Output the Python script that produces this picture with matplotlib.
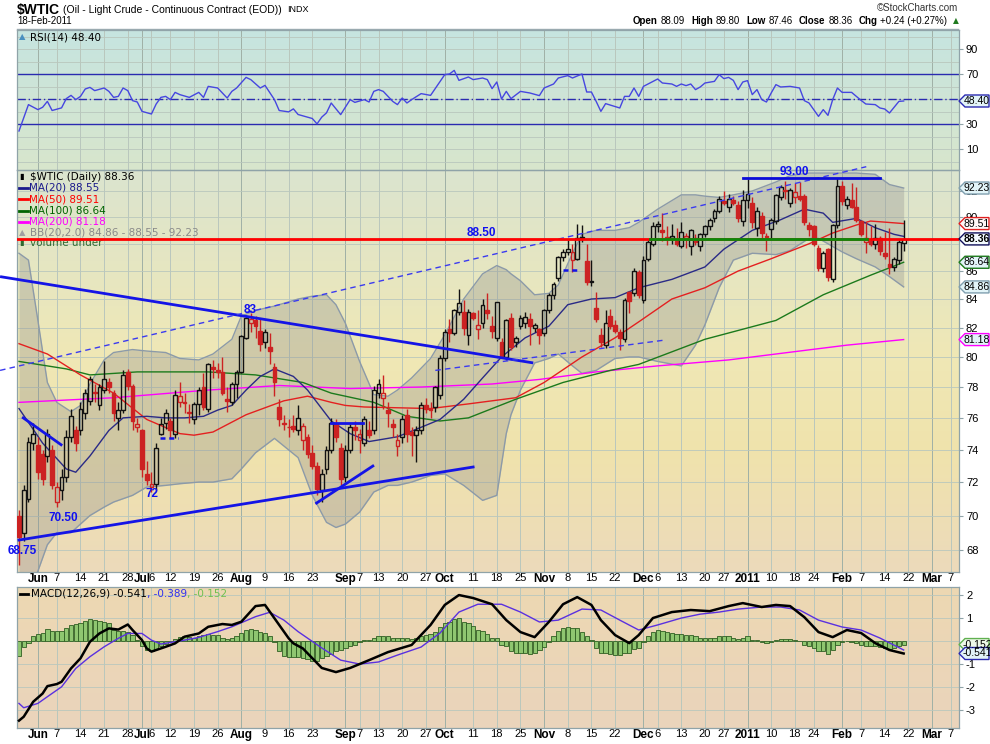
import numpy as np
import matplotlib
matplotlib.use("Agg")
import matplotlib.pyplot as plt
import matplotlib.colors as mcolors
from matplotlib.patches import Rectangle, Polygon
from matplotlib.lines import Line2D
from matplotlib.collections import LineCollection

plt.rcParams['font.family'] = ['DejaVu Sans']
plt.rcParams['axes.unicode_minus'] = False

# ---------------- DATA (trading days 25-May-2010 .. 18-Feb-2011) ----------------
opens = [70.0, 69.0, 71.0, 74.4, 74.3, 73.7, 73.6, 74.0, 70.8, 71.5,
         72.3, 74.8, 75.2, 75.2, 76.3, 77.1, 77.7, 76.8, 77.8, 78.3,
         77.6, 76.0, 76.5, 79.0, 78.1, 75.4, 75.2, 72.5, 71.7, 71.9,
         75.0, 75.7, 75.8, 75.0, 77.0, 77.0, 76.4, 75.9, 76.9, 78.0,
         76.6, 79.3, 79.1, 79.0, 77.2, 77.0, 78.2, 79.0, 81.3, 82.3,
         82.5, 81.8, 81.0, 80.7, 79.3, 76.7, 75.7, 75.4, 75.5, 75.2,
         74.6, 74.8, 73.8, 73.0, 71.5, 72.8, 74.0, 75.6, 74.1, 72.3,
         74.0, 75.4, 74.6, 74.4, 75.2, 75.2, 77.6, 77.3, 76.5, 75.6,
         74.2, 74.8, 76.2, 75.1, 74.9, 75.2, 76.8, 76.6, 76.7, 77.5,
         79.9, 81.9, 81.6, 83.1, 83.1, 81.5, 83.0, 81.9, 82.3, 83.2,
         82.1, 81.3, 81.0, 80.0, 82.7, 81.0, 82.1, 82.3, 82.6, 82.0,
         81.9, 81.6, 83.2, 84.3, 85.5, 87.0, 87.4, 86.8, 86.9, 88.4,
         86.7, 85.2, 83.4, 81.5, 80.8, 82.8, 82.2, 81.7, 81.2, 84.5,
         84.4, 85.9, 83.9, 86.9, 88.0, 89.3, 89.0, 88.4, 88.45, 88.2,
         87.8, 88.4, 87.8, 88.4, 87.8, 88.7, 89.3, 89.9, 90.5, 91.2,
         90.8, 91.3, 90.9, 89.7, 91.3, 91.1, 89.2, 90.1, 88.6, 89.1,
         89.7, 91.5, 92.1, 91.1, 91.5, 91.6, 91.6, 89.4, 89.3, 87.7,
         86.2, 87.6, 85.4, 89.4, 92.4, 90.9, 91.3, 90.8, 89.7, 88.1,
         88.2, 88.0, 88.4, 87.3, 86.5, 86.3, 86.8, 88.09]
highs = [70.3, 71.8, 74.8, 75.7, 74.8, 74.0, 75.3, 74.3, 72.0, 72.8,
         75.2, 76.6, 75.5, 77.0, 77.9, 78.7, 78.2, 78.2, 79.7, 78.6,
         77.8, 77.0, 79.1, 79.2, 78.2, 76.0, 75.3, 73.3, 72.6, 74.4,
         76.0, 76.6, 76.0, 77.8, 78.3, 77.6, 76.9, 77.0, 78.0, 78.9,
         79.6, 79.8, 79.6, 80.0, 78.0, 78.3, 79.1, 81.5, 82.9, 83.0,
         82.8, 82.6, 81.9, 81.6, 79.6, 77.2, 76.2, 75.9, 76.2, 76.8,
         75.7, 75.0, 74.3, 73.2, 72.8, 74.2, 76.0, 75.9, 74.4, 74.3,
         75.6, 75.8, 75.3, 76.1, 75.8, 78.1, 78.5, 78.8, 77.0, 75.9,
         75.0, 76.2, 76.6, 75.4, 75.5, 77.0, 77.3, 77.0, 78.1, 80.1,
         81.9, 82.6, 83.3, 84.7, 83.9, 83.3, 83.1, 83.2, 84.0, 84.4,
         82.8, 83.8, 81.3, 82.6, 83.0, 81.4, 82.9, 83.1, 83.0, 82.3,
         82.0, 83.3, 84.4, 85.2, 87.1, 87.6, 88.3, 88.0, 89.5, 89.4,
         88.0, 86.8, 84.5, 82.0, 83.2, 83.3, 82.5, 81.9, 84.1, 84.6,
         86.2, 86.1, 87.1, 88.3, 89.6, 89.7, 90.3, 89.3, 89.5, 89.2,
         89.6, 88.8, 89.1, 88.7, 88.8, 89.4, 89.9, 90.6, 91.6, 92.0,
         91.8, 91.6, 91.2, 92.1, 92.9, 91.5, 90.8, 90.4, 88.8, 89.9,
         91.8, 92.5, 92.8, 92.2, 92.6, 92.7, 91.8, 89.6, 89.4, 87.9,
         87.5, 87.7, 89.5, 93.0, 92.8, 91.6, 92.6, 92.3, 89.8, 89.6,
         89.3, 89.5, 88.6, 88.9, 89.2, 87.0, 88.3, 89.80]
lows = [67.15, 68.5, 70.8, 74.0, 72.2, 71.8, 73.2, 71.6, 70.5, 70.9,
        72.0, 74.5, 73.9, 74.9, 75.9, 76.8, 77.0, 76.5, 77.6, 77.6,
        75.8, 75.2, 76.3, 77.8, 75.2, 75.1, 72.3, 71.8, 71.4, 71.5,
        74.9, 75.3, 74.7, 74.7, 76.7, 76.3, 75.7, 75.6, 76.2, 76.5,
        76.4, 78.6, 78.6, 77.5, 76.4, 76.8, 77.3, 78.9, 81.2, 81.7,
        81.3, 80.4, 80.6, 79.5, 77.4, 75.5, 75.2, 74.8, 75.1, 74.9,
        74.0, 73.5, 72.8, 71.2, 70.8, 72.5, 73.8, 74.5, 71.8, 72.0,
        73.8, 74.6, 73.8, 74.2, 74.7, 75.0, 77.3, 76.6, 75.4, 74.8,
        73.6, 74.4, 74.5, 73.6, 73.2, 75.0, 76.3, 76.0, 76.4, 77.2,
        79.7, 81.0, 81.5, 82.9, 81.5, 80.8, 82.5, 81.2, 82.0, 82.6,
        81.3, 81.1, 79.9, 79.8, 80.5, 80.7, 81.9, 82.0, 80.8, 81.7,
        80.9, 81.4, 83.0, 84.0, 85.3, 86.7, 87.2, 85.9, 86.8, 88.1,
        85.0, 84.9, 82.4, 80.7, 80.6, 81.9, 81.6, 80.5, 81.0, 83.0,
        84.2, 84.1, 83.7, 86.7, 87.8, 88.9, 88.2, 87.9, 88.0, 87.8,
        87.7, 87.7, 87.2, 87.9, 87.5, 88.5, 89.0, 89.6, 90.3, 90.9,
        90.4, 90.9, 89.6, 89.3, 90.7, 89.2, 88.6, 88.3, 87.5, 88.3,
        89.5, 91.3, 91.4, 90.8, 91.1, 91.2, 89.4, 88.6, 87.8, 86.0,
        85.9, 85.3, 85.2, 89.2, 90.9, 90.6, 90.7, 89.6, 88.6, 87.3,
        87.8, 87.6, 87.2, 86.9, 85.8, 86.0, 86.5, 87.46]
closes = [68.75, 71.5, 74.5, 75.0, 72.6, 72.2, 75.0, 71.8, 71.7, 72.3,
          74.8, 76.1, 74.4, 76.6, 77.6, 78.5, 77.6, 78.0, 78.5, 78.0,
          76.3, 76.5, 78.8, 78.1, 75.8, 75.6, 72.8, 72.1, 71.9, 74.1,
          75.6, 76.3, 75.2, 77.5, 77.4, 76.95, 76.3, 76.9, 77.8, 76.7,
          79.5, 79.2, 79.0, 77.6, 77.1, 78.2, 79.0, 81.4, 82.7, 82.6,
          82.1, 80.9, 81.7, 80.4, 78.3, 75.9, 75.6, 75.45, 75.3, 76.0,
          75.5, 73.7, 73.0, 71.6, 72.5, 74.0, 75.7, 74.8, 72.2, 74.0,
          75.4, 75.2, 75.0, 75.9, 74.9, 77.8, 78.2, 77.6, 76.3, 75.4,
          74.6, 75.9, 75.0, 74.9, 75.2, 76.8, 76.6, 76.5, 78.0, 79.9,
          81.7, 81.6, 83.2, 83.7, 82.0, 83.1, 82.7, 82.2, 83.6, 83.0,
          81.8, 83.8, 80.0, 82.5, 80.7, 81.3, 82.7, 82.75, 82.1, 82.2,
          81.5, 83.2, 84.3, 85.1, 87.0, 87.4, 87.6, 87.4, 88.4, 88.5,
          85.2, 85.3, 82.6, 81.0, 82.3, 82.1, 81.8, 81.3, 83.9, 83.85,
          86.0, 84.3, 86.8, 88.1, 89.3, 89.5, 88.9, 88.5, 88.6, 88.0,
          88.9, 88.6, 89.0, 88.1, 88.7, 89.3, 89.8, 90.5, 91.4, 91.1,
          91.4, 91.1, 89.9, 91.3, 91.8, 89.6, 90.5, 88.8, 88.5, 89.8,
          91.7, 92.3, 92.0, 92.1, 91.9, 91.4, 89.6, 89.1, 88.0, 86.2,
          87.3, 85.6, 89.4, 92.4, 91.2, 91.4, 90.8, 89.8, 88.7, 88.4,
          88.0, 88.4, 87.5, 87.1, 86.3, 86.9, 88.12, 88.36]

# moving averages (day index, value)
ma20_days = [0, 5, 10, 12, 15, 19, 22, 27, 31, 35, 39, 42, 45, 48, 51, 54, 58, 61, 66, 70, 74, 80, 85, 89, 94, 98,
             102, 107, 112, 116, 121, 126, 131, 138, 145, 149, 155, 161, 166, 170, 172, 177, 181, 185, 187]
ma20_vals = [76.6, 74.4, 72.8, 72.6, 73.6, 75.2, 76.0, 76.1, 76.0, 76.0, 76.1, 76.5, 76.8, 77.8, 78.7, 79.2, 78.7, 77.8,
             75.8, 75.0, 74.5, 74.8, 75.4, 75.9, 77.2, 78.6, 80.0, 81.3, 82.1, 83.6, 84.0, 84.1, 84.8, 85.4, 86.3,
             87.6, 89.0, 89.8, 90.6, 90.3, 89.6, 89.9, 89.2, 88.7, 88.55]
ma50_days = [0, 6, 13, 20, 27, 34, 37, 41, 48, 56, 61, 66, 69, 73, 87, 95, 105, 111, 119, 126, 131, 138, 145, 152,
             159, 167, 172, 177, 180, 187]
ma50_vals = [80.9, 80.2, 78.8, 77.6, 75.9, 75.0, 74.9, 75.1, 76.2, 77.1, 77.4, 77.0, 76.8, 76.7, 76.6, 76.9, 77.3,
             78.3, 80.0, 81.3, 82.4, 84.0, 84.8, 86.0, 86.9, 88.0, 88.8, 89.4, 89.7, 89.51]
ma100_days = [0, 10, 15, 25, 40, 50, 60, 66, 75, 82, 89, 95, 105, 115, 125, 131, 145, 160, 170, 180, 187]
ma100_vals = [79.7, 79.2, 78.8, 79.0, 79.0, 78.8, 78.3, 77.6, 77.0, 76.1, 75.8, 76.0, 77.2, 78.3, 79.1, 79.5, 81.2,
              82.5, 84.3, 85.7, 86.64]
ma200_days = [0, 20, 40, 55, 70, 85, 100, 110, 122, 135, 150, 165, 175, 187]
ma200_vals = [77.0, 77.3, 77.8, 78.1, 77.9, 78.0, 78.2, 78.5, 79.0, 79.4, 79.8, 80.4, 80.8, 81.18]

# Bollinger bands (20,2)
bb_days = [0, 2, 4, 6, 8, 11, 13, 15, 18, 20, 24, 27, 31, 34, 38, 41, 45, 47, 50, 54, 59, 62, 65, 67, 69, 72, 75,
           78, 80, 83, 87, 90, 94, 98, 101, 103, 104, 106, 109, 112, 114, 117, 119, 122, 126, 129, 131, 135, 140,
           143, 145, 148, 151, 155, 160, 163, 167, 169, 171, 174, 177, 181, 184, 187]
bb_upper = [87.3, 86.8, 82.5, 78.3, 77.0, 76.4, 76.8, 78.2, 79.8, 80.3, 80.5, 80.4, 80.3, 79.9, 79.8, 80.2, 81.2,
            82.8, 83.2, 83.5, 84.0, 84.2, 84.3, 83.6, 82.3, 79.7, 77.5, 77.4, 77.8, 78.6, 79.9, 81.5, 84.0, 85.8,
            86.4, 86.1, 85.8, 85.3, 84.3, 84.4, 85.0, 87.3, 88.7, 89.0, 89.0, 89.2, 89.6, 90.6, 91.7, 91.7, 91.6,
            91.5, 91.7, 92.0, 92.7, 93.2, 93.4, 93.4, 93.4, 93.4, 93.4, 93.3, 92.5, 92.23]
bb_lower = [65.5, 66.0, 66.8, 68.3, 69.0, 69.0, 69.5, 70.0, 70.5, 70.8, 71.2, 71.7, 71.8, 71.9, 72.0, 72.0, 72.2,
            72.8, 73.8, 74.7, 73.5, 71.2, 69.6, 69.3, 69.5, 70.2, 71.4, 71.8, 71.8, 72.0, 72.4, 72.5, 71.8, 70.9,
            71.2, 75.0, 76.2, 77.8, 79.6, 79.9, 80.2, 79.4, 78.9, 79.1, 79.9, 80.0, 80.0, 79.7, 79.4, 80.8, 82.2,
            84.8, 86.8, 87.3, 87.2, 87.5, 88.4, 88.4, 88.0, 87.4, 86.9, 86.3, 85.6, 84.86]

# RSI(14)
rsi_days = [0, 1, 2, 4, 5, 6, 7, 9, 10, 11, 12, 13, 14, 15, 16, 18, 19, 20, 21, 22, 23, 24, 25, 26, 28, 29, 30,
            31, 32, 33, 34, 36, 38, 39, 40, 42, 44, 45, 46, 48, 49, 51, 52, 54, 55, 57, 58, 59, 61, 62, 63, 64, 65,
            66, 68, 70, 71, 73, 74, 75, 76, 77, 79, 80, 81, 82, 83, 85, 87, 90, 91, 92, 93, 95, 96, 98, 99, 100,
            101, 102, 103, 104, 106, 108, 110, 111, 113, 114, 116, 117, 119, 120, 121, 122, 123, 124, 127, 128,
            129, 130, 131, 132, 134, 135, 136, 138, 139, 140, 141, 142, 143, 144, 145, 147, 148, 149, 150, 151,
            152, 153, 154, 155, 156, 157, 158, 159, 160, 161, 163, 165, 166, 167, 169, 170, 171, 172, 173, 174,
            176, 178, 179, 181, 182, 183, 184, 186, 187]
rsi_vals = [24.4, 35.0, 45.5, 41.5, 43.4, 48.1, 40.8, 42.9, 50.3, 52.9, 49.5, 52.1, 58.0, 59.3, 56.7, 58.8, 56.1,
            51.3, 52.1, 58.8, 56.7, 48.7, 47.6, 40.1, 38.0, 46.0, 51.3, 52.1, 49.5, 55.3, 53.5, 51.3, 55.3, 51.3,
            60.1, 58.8, 50.8, 56.1, 58.8, 67.3, 65.5, 58.8, 60.9, 49.5, 40.8, 39.7, 42.1, 37.6, 35.5, 34.4, 30.1,
            35.5, 38.9,
            46.8, 37.5, 49.5, 47.3, 49.5, 47.6, 56.1, 57.5, 56.1, 48.1, 45.5, 50.8, 46.8, 49.5, 54.3, 52.9, 69.5,
            70.0, 72.9, 64.9, 67.6, 65.5, 66.8, 65.5, 58.3, 63.6, 50.0, 56.1, 50.3, 56.1, 54.8, 52.7, 58.8, 62.0,
            66.8, 68.7, 66.8, 70.0, 55.6, 55.6, 48.1, 40.1, 46.3, 42.8, 52.1, 52.1, 58.8, 52.1, 60.1, 64.1, 66.0,
            62.8, 62.0, 60.1, 62.0, 60.7, 62.0, 57.5, 59.6, 62.8, 64.1, 69.5, 66.3, 67.3, 64.9, 57.5, 63.6, 64.7,
            53.5, 57.5, 49.5, 47.6, 54.8, 61.5, 59.6, 60.1, 58.8, 48.7, 46.8, 36.1, 41.5, 36.9, 49.5, 58.8, 55.3,
            55.3, 48.9, 46.0, 45.5, 42.8, 42.0, 38.8, 48.1, 48.4]

# MACD(12,26,9)
macd_days = [0, 1, 3, 5, 6, 8, 9, 11, 13, 15, 17, 19, 21, 23, 24, 26, 27, 28, 31, 33, 35, 38, 40, 43, 45, 47, 50,
             52, 53, 55, 57, 58, 60, 64, 67, 70, 74, 78, 83, 87, 90, 93, 96, 100, 103, 106, 109, 112, 115, 118, 121,
             123, 126, 129, 131, 134, 138, 142, 146, 150, 153, 157, 160, 163, 166, 169, 172, 175, 178, 181, 184, 187]
macd_vals = [-3.46, -3.29, -2.64, -2.28, -1.96, -1.87, -1.77, -1.19, -0.75, -0.03, 0.33, 0.55, 0.5, 0.72, 0.48,
             0.04, -0.32, -0.46, -0.25, -0.1, 0.19, 0.33, 0.62, 0.74, 0.7, 0.84, 1.52, 1.57, 1.28, 0.7, 0.12, -0.1,
             -0.32, -1.17, -1.35, -1.17, -0.83, -0.48, -0.17, 0.7, 1.57, 2.0, 1.87, 1.6, 0.91, 0.39, 0.17, 0.83,
             1.6, 1.91, 1.57, 0.91, 0.26, -0.09, 0.26, 1.0, 1.26, 1.35, 1.3, 1.52, 1.65, 1.48, 1.57, 1.52, 1.04,
             0.39, 0.17, 0.48, 0.35, -0.09, -0.39, -0.541]
signal_days = [0, 1, 4, 6, 9, 12, 15, 18, 21, 23, 26, 28, 30, 35, 38, 42, 45, 50, 53, 56, 59, 64, 68, 72, 76, 80,
               85, 89, 93, 97, 102, 106, 110, 114, 119, 123, 127, 131, 135, 140, 144, 148, 152, 157, 161, 165, 169,
               174, 178, 182, 187]
signal_vals = [-2.71, -2.9, -2.71, -2.42, -1.99, -1.19, -0.68, -0.25, 0.12, 0.33, 0.33, 0.04, -0.13, 0.04, 0.16,
               0.41, 0.62, 1.06, 1.25, 0.91, 0.41, -0.3, -0.83, -1.0, -0.91, -0.61, -0.26, 0.35, 1.26, 1.6, 1.6,
               1.26, 0.83, 0.91, 1.39, 1.35, 0.91, 0.48, 0.7, 1.0, 1.17, 1.26, 1.39, 1.48, 1.48, 1.35, 0.91, 0.61,
               0.48, 0.13, -0.389]
macd_hist = [-0.65, -0.25, -0.07, 0.2, 0.3, 0.35, 0.52, 0.45, 0.42, 0.42,
             0.57, 0.7, 0.73, 0.77, 0.87, 0.96, 0.91, 0.87, 0.81, 0.77,
             0.49, 0.42, 0.42, 0.39, 0.28, 0.03, -0.2, -0.39, -0.45, -0.33,
             -0.22, -0.12, 0.0, 0.1, 0.16, 0.2, 0.16, 0.14, 0.2, 0.25,
             0.3, 0.25, 0.28, 0.14, 0.1, 0.14, 0.2, 0.35, 0.49, 0.52,
             0.49, 0.39, 0.35, 0.2, -0.03, -0.43, -0.65, -0.7, -0.7, -0.7,
             -0.75, -0.8, -0.85, -0.85, -0.75, -0.65, -0.55, -0.45, -0.4, -0.3,
             -0.2, -0.15, -0.05, 0.05, 0.05, 0.15, 0.2, 0.2, 0.2, 0.15,
             0.12, 0.15, 0.12, 0.1, 0.12, 0.2, 0.25, 0.3, 0.4, 0.6,
             0.8, 0.85, 0.95, 1.0, 0.85, 0.8, 0.65, 0.5, 0.45, 0.3,
             0.15, 0.15, -0.15, -0.2, -0.45, -0.5, -0.5, -0.5, -0.55, -0.5,
             -0.4, -0.25, -0.05, 0.2, 0.45, 0.55, 0.6, 0.55, 0.55, 0.4,
             0.2, 0.05, -0.3, -0.5, -0.5, -0.55, -0.6, -0.6, -0.5, -0.5,
             -0.35, -0.3, -0.05, 0.2, 0.4, 0.5, 0.45, 0.4, 0.35, 0.3,
             0.3, 0.25, 0.25, 0.2, 0.15, 0.15, 0.15, 0.15, 0.2, 0.2,
             0.2, 0.15, 0.1, 0.15, 0.2, 0.05, 0.05, -0.05, -0.1, -0.05,
             0.05, 0.1, 0.1, 0.1, 0.05, 0.0, -0.15, -0.2, -0.3, -0.45,
             -0.45, -0.55, -0.4, -0.15, -0.05, 0.0, -0.05, -0.1, -0.15, -0.2,
             -0.2, -0.2, -0.25, -0.3, -0.35, -0.3, -0.2, -0.152]

# x-axis tick labels (trading-day index, text)
tick_pos = [4, 8, 13, 18, 23, 26, 28, 32, 37, 42, 47, 52, 57, 62, 69, 72, 76, 81, 86, 90, 96, 101, 106, 111, 116,
            121, 126, 132, 135, 140, 145, 149, 154, 159, 164, 168, 174, 178, 183, 188, 193, 197]
tick_lab = ['Jun', '7', '14', '21', '28', 'Jul', '6', '12', '19', '26', 'Aug', '9', '16', '23', 'Sep', '7', '13',
            '20', '27', 'Oct', '11', '18', '25', 'Nov', '8', '15', '22', 'Dec', '6', '13', '20', '27', '2011', '10',
            '18', '24', 'Feb', '7', '14', '22', 'Mar', '7']
month_lab = {'Jun', 'Jul', 'Aug', 'Sep', 'Oct', 'Nov', 'Dec', '2011', 'Feb', 'Mar'}
price_ticks = [68, 70, 72, 74, 76, 78, 80, 82, 84, 86, 90, 92]
rsi_ticks = [10, 30, 70, 90]
macd_ticks = [-3, -2, -1, 1, 2]

# ---------------- FIGURE ----------------
W, H = 990, 744
fig = plt.figure(figsize=(W / 100, H / 100), dpi=100)
fig.patch.set_facecolor('white')
XL = (-0.42, 198.7)
n = len(closes)


def frect(x0, y0, x1, y1):
    return [x0 / W, 1 - y1 / H, (x1 - x0) / W, (y1 - y0) / H]


def panel(x0, y0, x1, y1, stops):
    bg = fig.add_axes(frect(x0, y0, x1, y1), zorder=0)
    t = np.linspace(0, 1, 256)
    pos = [p for p, _ in stops]
    cols = np.array([mcolors.to_rgb(c) for _, c in stops])
    img = np.stack([np.interp(t, pos, cols[:, k]) for k in range(3)], -1)[:, None, :]
    bg.imshow(img, aspect='auto', extent=[0, 1, 0, 1], interpolation='bilinear')
    bg.set_axis_off()
    ax = fig.add_axes(frect(x0, y0, x1, y1), zorder=1)
    ax.patch.set_visible(False)
    for s in ax.spines.values():
        s.set_color('#8fa3a8')
        s.set_linewidth(0.9)
    return ax


ax_r = panel(17, 30, 959, 170, [(0, '#c6e4e0'), (1, '#d8e6cc')])
ax_p = panel(17, 170, 959, 572, [(0, '#dbe4cf'), (0.45, '#efe8b6'), (0.7, '#f0e3ac'), (1, '#ecdabb')])
ax_m = panel(17, 587, 959, 728, [(0, '#edd8b2'), (1, '#ead4bc')])

GRID = '#b9c7bd'
GRID_M = '#9fb0a6'
for ax in (ax_r, ax_p, ax_m):
    ax.set_xlim(*XL)
    for p, lab in zip(tick_pos, tick_lab):
        ax.axvline(p, color=GRID_M if lab in month_lab else GRID, lw=0.7, zorder=0.5)
    ax.tick_params(axis='y', which='both', left=False, right=True, labelleft=False, labelright=True,
                   labelsize=8, length=3, pad=2, color='#8fa3a8')
    ax.tick_params(axis='x', which='both', length=0, pad=0.5, color='#8fa3a8')

# ---- RSI panel ----
ax_r.set_ylim(-6.8, 105.2)
for v in range(0, 101, 10):
    ax_r.axhline(v, color=GRID, lw=0.6, zorder=0.5)
ax_r.axhline(70, color='#2a2ab0', lw=1.0, zorder=2)
ax_r.axhline(30, color='#2a2ab0', lw=1.0, zorder=2)
ax_r.axhline(50, color='#2a2ab0', lw=1.0, ls=(0, (6, 2, 1, 2)), zorder=2)
ax_r.plot(rsi_days, rsi_vals, color='#4646e0', lw=1.0, zorder=3)
ax_r.set_yticks(rsi_ticks)
ax_r.set_xticks([])
for t in ax_r.get_yticklabels():
    t.set_fontfamily('Liberation Sans')

# ---- Price panel ----
ax_p.set_yscale('log')
YP = (66.75, 93.64)
for v in range(68, 93, 2):
    ax_p.axhline(v, color=GRID, lw=0.6, zorder=0.5)

ax_p.fill_between(bb_days, bb_lower, bb_upper, color='#8e8e8e', alpha=0.33, lw=0, zorder=1)
ax_p.plot(bb_days, bb_upper, color='#8c9aa8', lw=1.0, zorder=1.2)
ax_p.plot(bb_days, bb_lower, color='#8c9aa8', lw=1.0, zorder=1.2)

ax_p.plot(ma200_days, ma200_vals, color='#ff00ff', lw=1.0, zorder=2)
ax_p.plot(ma100_days, ma100_vals, color='#1c7a1c', lw=1.0, zorder=2)
ax_p.plot(ma50_days, ma50_vals, color='#e42020', lw=1.0, zorder=2)
ax_p.plot(ma20_days, ma20_vals, color='#2a2a86', lw=1.0, zorder=2)

# candles
RED = '#cc2222'
BLK = '#111111'
bw = 0.8
segs, scol = [], []
for i in range(n):
    o, h, l, c = opens[i], highs[i], lows[i], closes[i]
    prev = closes[i - 1] if i > 0 else o + 1
    col = RED if c < prev else BLK
    lo, hi = min(o, c), max(o, c)
    segs.append([(i, l), (i, lo)])
    segs.append([(i, hi), (i, h)])
    scol += [col, col]
    filled = c < o
    ax_p.add_patch(Rectangle((i - bw / 2, lo), bw, max(hi - lo, 0.03),
                             facecolor=col if filled else 'none', edgecolor=col, lw=1.0, zorder=4))
ax_p.add_collection(LineCollection(segs, colors=scol, linewidths=1.0, zorder=3.9))

# chartist drawings
BLUE = '#1414e6'
ax_p.plot([-4.0, 108.7], [85.6, 79.6], color=BLUE, lw=2.0, zorder=5, clip_on=False, solid_capstyle='butt')
ax_p.plot([0.0, 96.0], [68.57, 72.92], color=BLUE, lw=2.0, zorder=5)
ax_p.plot([0.9, 8.9], [76.0, 74.3], color=BLUE, lw=2.0, zorder=5)
ax_p.plot([62.9, 74.8], [70.74, 72.98], color=BLUE, lw=2.0, zorder=5)
ax_p.plot([66.0, 72.7], [75.7, 75.7], color=BLUE, lw=2.0, zorder=5)
ax_p.plot([29.8, 33.6], [74.7, 74.7], color=BLUE, lw=1.8, ls=(0, (2, 1.5)), zorder=5)
ax_p.plot([115.0, 118.0], [86.1, 86.1], color=BLUE, lw=1.8, ls=(0, (2, 1.5)), zorder=5)
ax_p.plot([-4.0, 179.1], [79.1, 93.9], color='#3a3af0', lw=1.0, ls=(0, (4, 3)), zorder=5, clip_on=False)
ax_p.plot([88.0, 136.6], [79.1, 81.15], color='#3a3af0', lw=1.0, ls=(0, (4, 3)), zorder=5)
ax_p.plot([153.0, 182.0], [93.0, 93.0], color='#0a0ad8', lw=2.0, zorder=5)
ax_p.axhline(88.36, color='#ff0000', lw=2.0, zorder=6)
ax_p.plot([133.4, 179.3], [88.36, 88.36], color='#0a8a0a', lw=2.0, zorder=6.1)

ann = dict(color='#1010f0', fontsize=8.5, fontweight='bold', ha='center', va='center', zorder=7,
           fontfamily='Liberation Sans')
ax_p.text(163.8, 93.45, '93.00', clip_on=False, **ann)
ax_p.text(97.7, 88.8, '88.50', **ann)
ax_p.text(48.8, 83.2, '83', **ann)
ax_p.text(9.3, 69.86, '70.50', **ann)
ax_p.text(28.1, 71.3, '72', **ann)
ax_p.text(0.6, 67.95, '68.75', clip_on=False, **ann)

ax_p.set_ylim(*YP)
ax_p.yaxis.set_minor_locator(matplotlib.ticker.NullLocator())
ax_p.set_yticks(price_ticks)
ax_p.yaxis.set_major_formatter(matplotlib.ticker.FuncFormatter(lambda v, p: f'{v:.0f}'))
ax_p.set_xticks(tick_pos)
ax_p.set_xticklabels(tick_lab)

# ---- MACD panel ----
ax_m.set_ylim(-3.78, 2.35)
for v in range(-3, 3):
    ax_m.axhline(v, color=GRID, lw=0.6, zorder=0.5)
ax_m.bar(np.arange(n), macd_hist, width=0.9, color='#8fc670', edgecolor='#2f5f22', lw=0.6, zorder=2)
ax_m.plot(signal_days, signal_vals, color='#5a30e0', lw=1.0, zorder=3)
ax_m.plot(macd_days, macd_vals, color='#000000', lw=1.8, zorder=4)
ax_m.set_yticks(macd_ticks)
ax_m.set_xticks(tick_pos)
ax_m.set_xticklabels(tick_lab)

for ax in (ax_p, ax_m):
    ax.set_xlim(*XL)
    ax.tick_params(axis='x', labelsize=8)
    for t in ax.get_xticklabels():
        t.set_fontfamily('Liberation Sans')
        if t.get_text() in month_lab:
            t.set_fontweight('bold')
            t.set_fontsize(8.5)
    for t in ax.get_yticklabels():
        t.set_fontfamily('Liberation Sans')


# ---- right-hand value boxes (arrow tags) ----
def rbox(ax, val, s, ec, fc='#e2f4f8', bold=False):
    yd = ax.transData.transform((0, val))[1]
    pts = [(959, yd), (965, yd + 6), (989, yd + 6), (989, yd - 6), (965, yd - 6)]
    fig.add_artist(Polygon([(px / W, py / H) for px, py in pts], closed=True, transform=fig.transFigure,
                           fc=fc, ec=ec, lw=1.0, zorder=10))
    fig.text(977 / W, yd / H, s, ha='center', va='center', fontsize=7.5, fontfamily='Liberation Sans',
             fontweight='bold' if bold else 'normal', zorder=11)


rbox(ax_p, 92.23, '92.23', '#7f9faf')
rbox(ax_p, 89.51, '89.51', '#e02020', fc='#fff6f6')
rbox(ax_p, 88.36, '88.36', '#10105a', fc='#f4fbff', bold=True)
rbox(ax_p, 86.64, '86.64', '#1c7a1c')
rbox(ax_p, 84.86, '84.86', '#7f9faf')
rbox(ax_p, 81.18, '81.18', '#ff00ff')
rbox(ax_r, 48.40, '48.40', '#2a2ab0')
rbox(ax_m, -0.152, '-0.152', '#60b050', fc='#eef8e8')
rbox(ax_m, -0.541, '-0.541', '#2a2ab0')

# ---- texts ----
renderer = fig.canvas.get_renderer()


def ftext(x, y, s, **kw):
    kw.setdefault('va', 'center')
    return fig.text(x / W, 1 - y / H, s, **kw)


def seq(x, y, parts):
    for s, gap, kw in parts:
        t = ftext(x, y, s, **kw)
        x += t.get_window_extent(renderer=renderer).width + gap
    return x


LIB = 'Liberation Sans'
seq(17, 10, [('$WTIC', 3, dict(fontsize=10, fontweight='bold', fontfamily=LIB)),
             ('(Oil - Light Crude - Continuous Contract (EOD))', 5, dict(fontsize=7.5, fontfamily=LIB)),
             ('INDX', 0, dict(fontsize=6.5, fontfamily=LIB))])
ftext(17, 21, '18-Feb-2011', fontsize=7, fontfamily=LIB)
ftext(958, 8, '\u00a9StockCharts.com', fontsize=7, ha='right', color='#333333', fontfamily=LIB)
B = dict(fontsize=7, fontweight='bold', fontfamily=LIB)
N = dict(fontsize=7, fontfamily=LIB)
seq(633, 21, [('Open', 3, B), ('88.09', 6, N), ('High', 3, B), ('89.80', 6, N), ('Low', 3, B), ('87.46', 6, N),
              ('Close', 3, B), ('88.36', 6, N), ('Chg', 3, B), ('+0.24 (+0.27%)', 5, N),
              ('\u25b2', 0, dict(fontsize=5.5, color='#1f7a1f'))])
fig.add_artist(Line2D([17 / W, 958 / W], [1 - 28.5 / H, 1 - 28.5 / H], color='#9aaab0', lw=1.0))

ftext(19, 37, '\u25b2', fontsize=6, color='#4a90c0')
ftext(30, 37, 'RSI(14) 48.40', fontsize=7.5)


def ptext(x, y, s, **kw):
    kw.setdefault('fontsize', 7.5)
    ax_p.text((x - 17) / 942, (572 - y) / 402, s, transform=ax_p.transAxes, va='center',
              zorder=5.5, **kw)


def pdash(x0, x1, y, col, lw=2.0):
    ax_p.plot([(x0 - 17) / 942, (x1 - 17) / 942], [(572 - y) / 402] * 2, transform=ax_p.transAxes,
              color=col, lw=lw, zorder=5.5)


leg = [(177, '$WTIC (Daily) 88.36', '#000000'), (188, 'MA(20) 88.55', '#1a1a8c'),
       (199, 'MA(50) 89.51', '#ff0000'), (210.5, 'MA(100) 86.64', '#006400'),
       (221.5, 'MA(200) 81.18', '#ff00ff'), (232.5, 'BB(20,2.0) 84.86 - 88.55 - 92.23', '#8a8a8a'),
       (243, 'volume under', '#2f6a2f')]
for k, (y, s, col) in enumerate(leg):
    if 1 <= k <= 4:
        pdash(19, 28, y, col)
        ptext(29, y, s, color=col)
    else:
        ptext(30, y, s, color=col)
ptext(19, 177, '\u25ae', color='#000000', fontsize=6)
ptext(19, 232.5, '\u25b2', color='#a0a0a0', fontsize=6)
ptext(19, 243, '\u25ae', color='#2f6a2f', fontsize=6)

fig.add_artist(Line2D([20 / W, 28 / W], [1 - 594 / H] * 2, color='black', lw=2.0))
seq(31, 594, [('MACD(12,26,9) -0.541', 0, dict(fontsize=7.5, color='black')),
              (', -0.389', 0, dict(fontsize=7.5, color='#3030f0')),
              (', -0.152', 0, dict(fontsize=7.5, color='#70c050'))])

fig.savefig('out.png', dpi=100)
